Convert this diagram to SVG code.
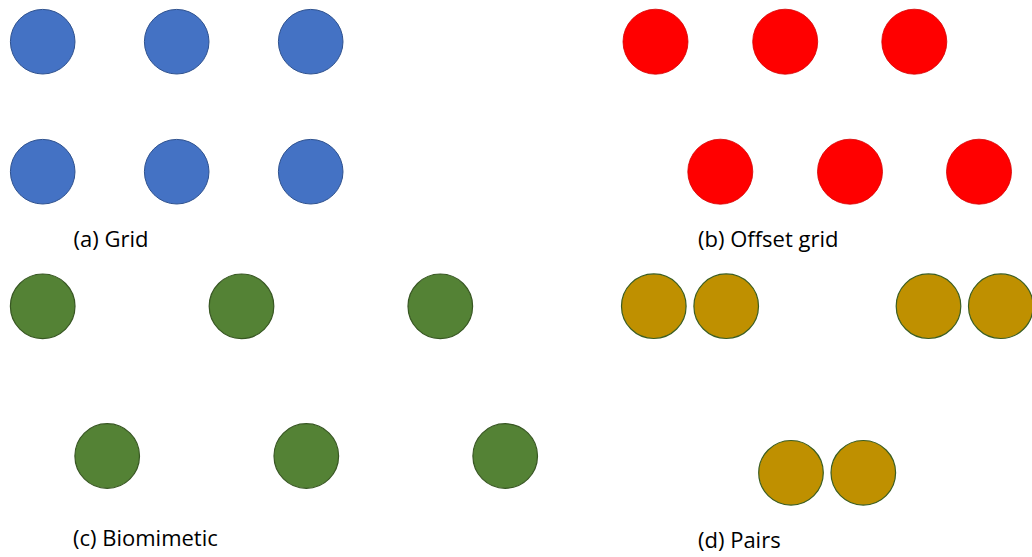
<svg xmlns="http://www.w3.org/2000/svg" width="1032" height="557" viewBox="0 0 1032 557">
<style>
.blue{fill:#4472C4;stroke:#2F528F;stroke-width:1}
.red{fill:#FF0000;stroke:#D40000;stroke-width:0.8}
.green{fill:#548235;stroke:#385723;stroke-width:1.2}
.gold{fill:#BF9000;stroke:#3B5E22;stroke-width:1.2}
.lbl{font-family:"Open Sans","Liberation Sans",sans-serif;font-size:22px;fill:#000}
</style>
<rect width="1032" height="557" fill="#fff"/>
<g id="grid">
<circle class="blue" cx="42.7" cy="41.7" r="32.3"/>
<circle class="blue" cx="176.7" cy="41.7" r="32.3"/>
<circle class="blue" cx="310.7" cy="41.7" r="32.3"/>
<circle class="blue" cx="42.7" cy="171.7" r="32.3"/>
<circle class="blue" cx="176.7" cy="171.7" r="32.3"/>
<circle class="blue" cx="310.7" cy="171.7" r="32.3"/>
<text class="lbl" x="73.5" y="246.5">(a) Grid</text>
</g>
<g id="offset-grid">
<circle class="red" cx="655.5" cy="41.7" r="32.5"/>
<circle class="red" cx="785.2" cy="41.7" r="32.5"/>
<circle class="red" cx="914.3" cy="41.7" r="32.5"/>
<circle class="red" cx="720.3" cy="171.7" r="32.5"/>
<circle class="red" cx="850" cy="171.7" r="32.5"/>
<circle class="red" cx="979" cy="171.7" r="32.5"/>
<text class="lbl" x="698" y="246.5">(b) Offset grid</text>
</g>
<g id="biomimetic">
<circle class="green" cx="42.7" cy="306.3" r="32.3"/>
<circle class="green" cx="241.5" cy="306.3" r="32.3"/>
<circle class="green" cx="440.3" cy="306.3" r="32.3"/>
<circle class="green" cx="107.2" cy="456" r="32.3"/>
<circle class="green" cx="306.3" cy="456" r="32.3"/>
<circle class="green" cx="505.2" cy="456" r="32.3"/>
<text class="lbl" x="73" y="545.5">(c) Biomimetic</text>
</g>
<g id="pairs">
<circle class="gold" cx="653.8" cy="306.2" r="32.3"/>
<circle class="gold" cx="726.2" cy="306.2" r="32.3"/>
<circle class="gold" cx="928.5" cy="306.2" r="32.3"/>
<circle class="gold" cx="1000.8" cy="306.2" r="32.3"/>
<circle class="gold" cx="791" cy="472.8" r="32.3"/>
<circle class="gold" cx="863.3" cy="472.8" r="32.3"/>
<text class="lbl" x="698" y="547.5">(d) Pairs</text>
</g>
<g id="connectors"/>
</svg>
